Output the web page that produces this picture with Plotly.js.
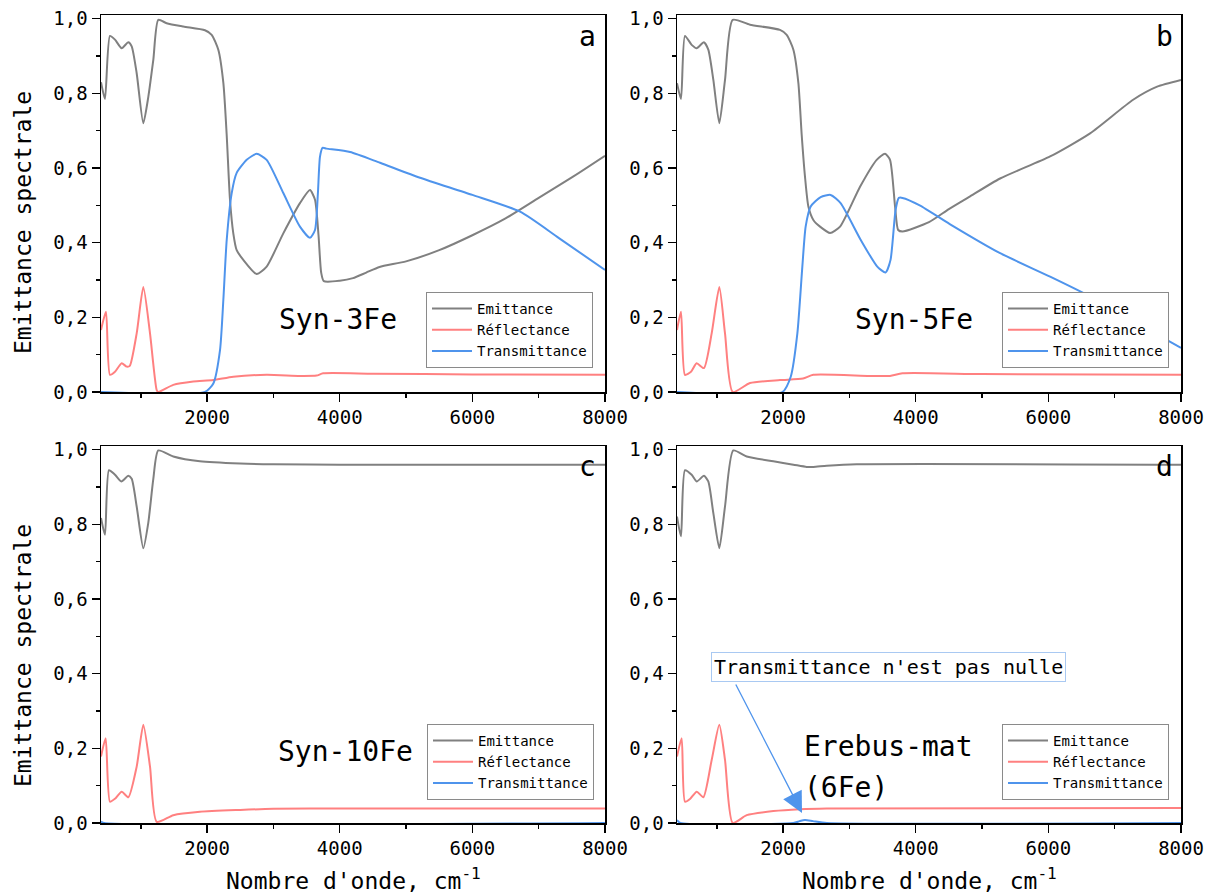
<!DOCTYPE html>
<html>
<head>
<meta charset="utf-8">
<script src="https://cdn.plot.ly/plotly-3.0.1.min.js"></script>
<style>html,body{margin:0;padding:0;background:#fff;}#chart{width:1214px;height:894px;}</style>
</head>
<body>
<div id="chart"></div>
<script>
// Panel a : Syn-3Fe
const aEmitX = [400, 460, 535, 611, 712, 812, 863, 938, 1038, 1113, 1189, 1264, 1390, 1641, 1968, 2069, 2169, 2245, 2295, 2345, 2395, 2446, 2546, 2747, 2898, 3149, 3400, 3551, 3627, 3680, 3720, 3760, 4000, 4200, 4400, 4600, 5000, 5500, 6000, 6500, 7000, 7500, 8000];
const aEmitY = [0.83, 0.785, 0.954, 0.944, 0.921, 0.937, 0.926, 0.854, 0.72, 0.79, 0.89, 0.997, 0.988, 0.979, 0.969, 0.957, 0.917, 0.828, 0.69, 0.515, 0.425, 0.38, 0.354, 0.316, 0.336, 0.425, 0.506, 0.541, 0.515, 0.42, 0.32, 0.297, 0.298, 0.305, 0.32, 0.335, 0.35, 0.38, 0.42, 0.465, 0.52, 0.575, 0.633];
const aReflX = [400, 475, 535, 611, 712, 787, 834, 938, 1038, 1139, 1240, 1264, 1490, 1792, 2094, 2395, 2898, 3400, 3650, 3750, 4500, 6000, 8000];
const aReflY = [0.166, 0.215, 0.046, 0.054, 0.077, 0.068, 0.07, 0.157, 0.281, 0.157, 0.005, 0, 0.019, 0.028, 0.032, 0.041, 0.046, 0.043, 0.044, 0.05, 0.049, 0.047, 0.046];
const aTransX = [400, 1968, 2094, 2195, 2245, 2296, 2371, 2446, 2597, 2747, 2898, 3149, 3400, 3551, 3627, 3670, 3702, 3740, 3800, 4156, 4608, 5211, 6000, 6720, 7300, 8000];
const aTransY = [0, 0, 0.023, 0.113, 0.247, 0.408, 0.533, 0.587, 0.622, 0.638, 0.622, 0.533, 0.443, 0.413, 0.434, 0.53, 0.63, 0.654, 0.652, 0.643, 0.614, 0.574, 0.528, 0.483, 0.413, 0.327];

// Panel b : Syn-5Fe
const bEmitX = [400, 460, 520, 621, 696, 806, 872, 948, 1038, 1124, 1240, 1501, 1953, 2054, 2155, 2230, 2280, 2330, 2381, 2456, 2557, 2708, 2859, 3160, 3411, 3537, 3612, 3688, 3735, 3800, 4200, 4500, 4800, 5272, 6026, 6629, 7278, 7640, 8000];
const bEmitY = [0.827, 0.785, 0.954, 0.93, 0.921, 0.937, 0.917, 0.836, 0.72, 0.836, 0.997, 0.984, 0.97, 0.957, 0.917, 0.828, 0.69, 0.577, 0.497, 0.461, 0.443, 0.426, 0.443, 0.55, 0.622, 0.638, 0.622, 0.497, 0.434, 0.43, 0.455, 0.49, 0.522, 0.572, 0.631, 0.693, 0.783, 0.818, 0.836];
const bReflX = [400, 460, 520, 611, 696, 806, 923, 1038, 1124, 1240, 1501, 1953, 2300, 2456, 3300, 3612, 3800, 5000, 8000];
const bReflY = [0.166, 0.215, 0.046, 0.054, 0.077, 0.064, 0.157, 0.281, 0.157, 0, 0.024, 0.032, 0.036, 0.046, 0.043, 0.043, 0.05, 0.048, 0.046];
const bTransX = [400, 1989, 2115, 2215, 2290, 2340, 2416, 2566, 2717, 2867, 3169, 3420, 3545, 3620, 3696, 3745, 3800, 4060, 4513, 5272, 6026, 6629, 7300, 7791, 8000];
const bTransY = [0, 0, 0.041, 0.157, 0.336, 0.443, 0.497, 0.522, 0.528, 0.506, 0.408, 0.336, 0.32, 0.354, 0.488, 0.52, 0.52, 0.5, 0.45, 0.372, 0.309, 0.256, 0.19, 0.139, 0.118];

// Panel c : Syn-10Fe
const cEmitX = [400, 460, 520, 611, 706, 812, 863, 938, 1038, 1113, 1189, 1264, 1490, 1892, 2500, 3000, 4000, 8000];
const cEmitY = [0.817, 0.772, 0.945, 0.933, 0.915, 0.93, 0.922, 0.848, 0.736, 0.804, 0.922, 0.998, 0.982, 0.969, 0.963, 0.961, 0.96, 0.96];
const cReflX = [400, 470, 535, 611, 712, 812, 938, 1038, 1139, 1240, 1490, 1892, 2500, 3000, 4000, 8000];
const cReflY = [0.178, 0.227, 0.057, 0.065, 0.084, 0.069, 0.151, 0.263, 0.151, 0.003, 0.021, 0.03, 0.035, 0.038, 0.039, 0.039];
const cTransX = [400, 450, 8000];
const cTransY = [0.004, 0, 0];

// Panel d : Erebus-mat (6Fe)
const dEmitX = [400, 460, 520, 621, 697, 807, 872, 948, 1038, 1124, 1249, 1451, 1853, 2155, 2356, 2456, 2658, 3110, 8000];
const dEmitY = [0.821, 0.768, 0.945, 0.933, 0.915, 0.93, 0.915, 0.83, 0.736, 0.848, 0.998, 0.982, 0.969, 0.96, 0.954, 0.954, 0.957, 0.961, 0.96];
const dReflX = [400, 470, 520, 600, 697, 797, 923, 1038, 1124, 1240, 1451, 1853, 2255, 2658, 8000];
const dReflY = [0.178, 0.227, 0.057, 0.065, 0.084, 0.069, 0.169, 0.263, 0.169, 0, 0.021, 0.032, 0.037, 0.039, 0.04];
const dTransX = [400, 450, 2155, 2250, 2330, 2450, 2660, 8000];
const dTransY = [0.008, 0, 0, 0.005, 0.008, 0.005, 0, 0];

const seriesNames = ['Emittance', 'Réflectance', 'Transmittance'];
const panelLetters = ['a', 'b', 'c', 'd'];
const yTitle = 'Emittance spectrale';
const xTitle = "Nombre d'onde, cm<sup>-1</sup>";
const noteText = "Transmittance n'est pas nulle";

const colors = ['#808080', '#ff8080', '#4f94ec'];
const FONT = 'DejaVu Sans Mono';

const panels = [
  {E:[aEmitX,aEmitY], R:[aReflX,aReflY], T:[aTransX,aTransY], xa:'x', ya:'y', lg:'legend'},
  {E:[bEmitX,bEmitY], R:[bReflX,bReflY], T:[bTransX,bTransY], xa:'x2', ya:'y2', lg:'legend2'},
  {E:[cEmitX,cEmitY], R:[cReflX,cReflY], T:[cTransX,cTransY], xa:'x3', ya:'y3', lg:'legend3'},
  {E:[dEmitX,dEmitY], R:[dReflX,dReflY], T:[dTransX,dTransY], xa:'x4', ya:'y4', lg:'legend4'}
];

const traces = [];
panels.forEach(p => {
  [p.E, p.R, p.T].forEach((s, i) => {
    traces.push({
      type: 'scatter', mode: 'lines', x: s[0], y: s[1],
      name: seriesNames[i], xaxis: p.xa, yaxis: p.ya, legend: p.lg,
      line: {color: colors[i], width: 2, shape: 'spline', smoothing: 0.6},
      showlegend: true
    });
  });
});

function xAx(domain, anchor) {
  return {
    domain: domain, anchor: anchor, range: [400, 8000],
    tickmode: 'linear', tick0: 0, dtick: 2000,
    ticks: 'outside', ticklen: 8, tickwidth: 1.5, tickcolor: '#000',
    showline: true, linewidth: 1.5, linecolor: '#000', mirror: true,
    showgrid: false, zeroline: false, layer: 'below traces',
    tickfont: {family: FONT, size: 19, color: '#000'},
    minor: {tick0: 0, dtick: 1000, ticks: 'outside', ticklen: 4, tickwidth: 1.5, tickcolor: '#000', showgrid: false},
    automargin: false, fixedrange: true
  };
}
function yAx(domain, anchor) {
  return {
    domain: domain, anchor: anchor, range: [0, 1.01],
    tickmode: 'linear', tick0: 0, dtick: 0.2, tickformat: '.1f',
    ticks: 'outside', ticklen: 8, tickwidth: 1.5, tickcolor: '#000',
    showline: true, linewidth: 1.5, linecolor: '#000', mirror: true,
    showgrid: false, zeroline: false, layer: 'below traces',
    tickfont: {family: FONT, size: 19, color: '#000'},
    minor: {tick0: 0, dtick: 0.1, ticks: 'outside', ticklen: 4, tickwidth: 1.5, tickcolor: '#000', showgrid: false},
    automargin: false, fixedrange: true
  };
}

const W = 1214, H = 894;
const px = v => v / W;
const py = v => (H - v) / H;

const xL = [px(101), px(605)], xR = [px(677), px(1181)];
const yT = [py(392), py(15)], yB = [py(823), py(446)];

function legendAt(left, top) {
  return {
    x: px(left), y: py(top), xanchor: 'left', yanchor: 'top',
    bgcolor: '#fff', bordercolor: '#8a8a8a', borderwidth: 1,
    itemwidth: 40, tracegroupgap: 0,
    font: {family: FONT, size: 14, color: '#000'}
  };
}

const annotations = [];
function txt(text, x, y, size, xanchor, yanchor, extra) {
  annotations.push(Object.assign({
    text: text, xref: 'paper', yref: 'paper', x: px(x), y: py(y),
    xanchor: xanchor, yanchor: yanchor, showarrow: false,
    font: {family: FONT, size: size, color: '#000'}
  }, extra || {}));
}
// panel letters
txt(panelLetters[0], 598, 18, 28, 'right', 'top');
txt(panelLetters[1], 1175, 18, 28, 'right', 'top');
txt(panelLetters[2], 598, 448, 28, 'right', 'top');
txt(panelLetters[3], 1175, 448, 28, 'right', 'top');
// sample labels
txt('Syn-3Fe', 277, 301, 28, 'left', 'top');
txt('Syn-5Fe', 853, 301, 28, 'left', 'top');
txt('Syn-10Fe', 276, 733, 28, 'left', 'top');
txt('Erebus-mat', 802, 728, 28, 'left', 'top');
txt('(6Fe)', 802, 769, 28, 'left', 'top');
// axis titles
txt(yTitle, 23, 223, 23, 'center', 'middle', {textangle: -90});
txt(yTitle, 23, 656, 23, 'center', 'middle', {textangle: -90});
txt(xTitle, 353, 879, 23, 'center', 'middle');
txt(xTitle, 929, 879, 23, 'center', 'middle');
// note box
txt(noteText, 888, 667, 20, 'center', 'middle', {bordercolor: '#a9c9f2', borderwidth: 1, borderpad: 2, bgcolor: '#fff'});
// arrow
annotations.push({
  text: '', xref: 'x4', yref: 'y4', x: 2285, y: 0.027,
  axref: 'x4', ayref: 'y4', ax: 1275, ay: 0.375,
  showarrow: true, arrowhead: 2, arrowsize: 3.2, arrowwidth: 1.3, arrowcolor: '#4f94ec', standoff: 0
});

const layout = {
  width: W, height: H,
  margin: {l: 0, r: 0, t: 0, b: 0},
  paper_bgcolor: '#fff', plot_bgcolor: '#fff',
  separators: ', ',
  font: {family: FONT, size: 19, color: '#000'},
  showlegend: true,
  xaxis: xAx(xL, 'y'), yaxis: yAx(yT, 'x'),
  xaxis2: xAx(xR, 'y2'), yaxis2: yAx(yT, 'x2'),
  xaxis3: xAx(xL, 'y3'), yaxis3: yAx(yB, 'x3'),
  xaxis4: xAx(xR, 'y4'), yaxis4: yAx(yB, 'x4'),
  legend: legendAt(426, 292),
  legend2: legendAt(1002, 292),
  legend3: legendAt(427, 724),
  legend4: legendAt(1002, 724),
  annotations: annotations
};

Plotly.newPlot('chart', traces, layout, {displayModeBar: false, staticPlot: true});
</script>
</body>
</html>
